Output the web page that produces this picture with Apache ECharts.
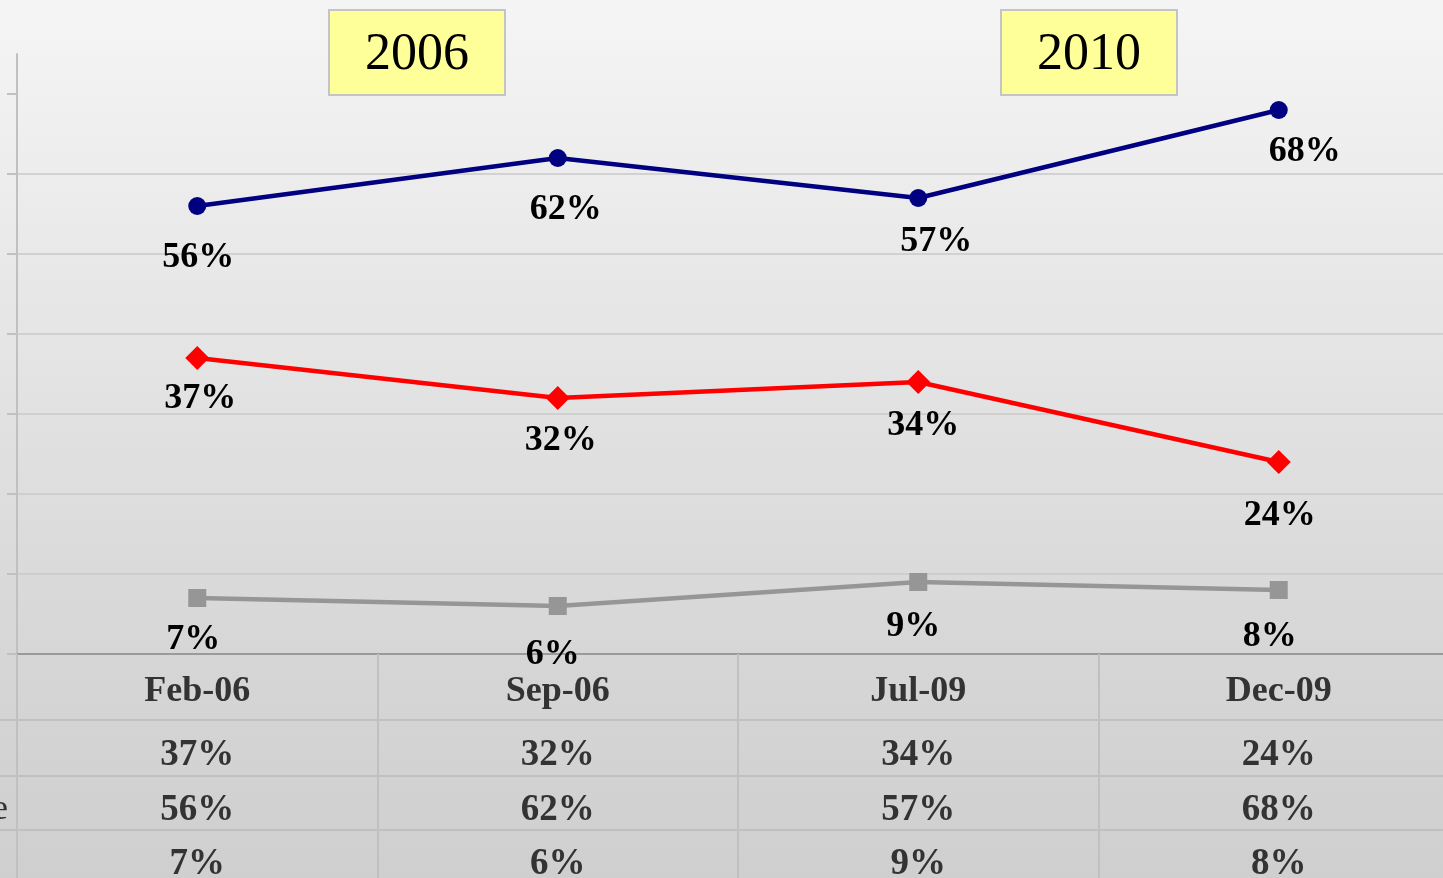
<!DOCTYPE html>
<html>
<head>
<meta charset="utf-8">
<script src="https://cdn.jsdelivr.net/npm/echarts@6/dist/echarts.min.js"></script>
<style>
  html, body { margin: 0; padding: 0; overflow: hidden; }
  #main { width: 1460px; height: 878px; }
</style>
</head>
<body>
<div id="main"></div>
<script>
// data
var categories = ['Feb-06', 'Sep-06', 'Jul-09', 'Dec-09'];
var redValues = [37, 32, 34, 24];
var blueValues = [56, 62, 57, 68];
var grayValues = [7, 6, 9, 8];
var yTicks = [0, 10, 20, 30, 40, 50, 60, 70];
var yearLabels = ['2006', '2010'];

// label nudges (style only, pixels)
var blueShift = [[1, 52], [8, 52], [18, 44], [26, 42]];
var redShift = [[3, 41], [3, 43], [5, 44], [1, 54]];
var grayShift = [[-4, 42], [-5, 49], [-5, 45], [-9, 47]];

var serif = "'Liberation Serif', 'Times New Roman', serif";

function withLabels(values, shifts) {
    return values.map(function (v, i) {
        return { value: v, label: { offset: shifts[i] } };
    });
}

// the plot runs past the right edge of the picture, so the canvas is a bit wider than the window
var chart = echarts.init(document.getElementById('main'));

var labelStyle = {
    show: true,
    position: 'inside',
    formatter: '{c}%',
    fontFamily: serif,
    fontWeight: 'bold',
    fontSize: 36,
    color: '#000'
};

var option = {
    animation: false,
    backgroundColor: new echarts.graphic.LinearGradient(0, 0, 0, 1, [
        { offset: 0, color: '#f5f5f5' },
        { offset: 0.75, color: '#d6d6d6' },
        { offset: 1, color: '#cfcfcf' }
    ]),
    grid: { left: 17, top: 54, height: 600, width: 1442 },
    xAxis: {
        type: 'category',
        data: categories,
        boundaryGap: true,
        axisLine: { lineStyle: { color: '#9a9a9a', width: 2 } },
        axisTick: { show: true, length: 224, lineStyle: { color: '#c0c0c0', width: 2 } },
        axisLabel: {
            margin: 20,
            fontFamily: serif,
            fontWeight: 'bold',
            fontSize: 36,
            lineHeight: 36,
            color: '#333'
        }
    },
    yAxis: {
        type: 'value',
        min: 0,
        max: 75,
        interval: 10,
        axisLine: { show: true, lineStyle: { color: '#c0c0c0', width: 2 } },
        axisTick: { show: true, length: 10, customValues: yTicks, lineStyle: { color: '#c0c0c0', width: 2 } },
        axisLabel: { show: false },
        splitLine: { show: true, showMaxLine: false, lineStyle: { color: '#c8c8c8', width: 1.5 } }
    },
    series: [
        {
            name: 'Red',
            type: 'line',
            data: withLabels(redValues, redShift),
            symbol: 'diamond',
            symbolSize: [24, 24],
            itemStyle: { color: '#ff0000' },
            lineStyle: { color: '#ff0000', width: 4.5 },
            label: labelStyle,
            z: 3
        },
        {
            name: 'Blue',
            type: 'line',
            data: withLabels(blueValues, blueShift),
            symbol: 'circle',
            symbolSize: 18,
            itemStyle: { color: '#000080' },
            lineStyle: { color: '#000080', width: 4.5 },
            label: labelStyle,
            z: 3
        },
        {
            name: 'Gray',
            type: 'line',
            data: withLabels(grayValues, grayShift),
            symbol: 'rect',
            symbolSize: 18,
            itemStyle: { color: '#969696' },
            lineStyle: { color: '#969696', width: 4.5 },
            label: labelStyle,
            z: 3
        }
    ]
};

chart.setOption(option);

// annotations + data table under the axis
var graphics = [];
var boxLeft = [328, 1000];
yearLabels.forEach(function (t, i) {
    graphics.push({
        type: 'group',
        left: boxLeft[i],
        top: 9,
        z: 10,
        children: [
            { type: 'rect', shape: { x: 0, y: 0, width: 176, height: 85 },
              style: { fill: '#ffff99', stroke: '#c4c4c4', lineWidth: 2 } },
            { type: 'text', x: 88, y: 45,
              style: { text: t, fontFamily: serif, fontSize: 52, fill: '#000', align: 'center', verticalAlign: 'middle' } }
        ]
    });
});

var rowLines = [720, 776, 830];
rowLines.forEach(function (y) {
    graphics.push({
        type: 'line',
        shape: { x1: 0, y1: y, x2: 1460, y2: y },
        style: { stroke: '#c0c0c0', lineWidth: 2 },
        z: 1
    });
});

var tableRows = [redValues, blueValues, grayValues];
var rowCenters = [755, 810, 864];
tableRows.forEach(function (vals, r) {
    vals.forEach(function (v, i) {
        var x = chart.convertToPixel({ xAxisIndex: 0 }, categories[i]);
        graphics.push({
            type: 'text',
            x: x,
            y: rowCenters[r],
            z: 5,
            style: {
                text: v + '%',
                fontFamily: serif,
                fontWeight: 'bold',
                fontSize: 37,
                fill: '#333',
                align: 'center',
                verticalAlign: 'middle'
            }
        });
    });
});

// row header of the blue series, mostly cut off on the left
graphics.push({
    type: 'text',
    x: 8,
    y: 810,
    style: { text: 'Approve', fontFamily: serif, fontSize: 36, fill: '#333', align: 'right', verticalAlign: 'middle' }
});

chart.setOption({ graphic: graphics });
</script>
</body>
</html>
